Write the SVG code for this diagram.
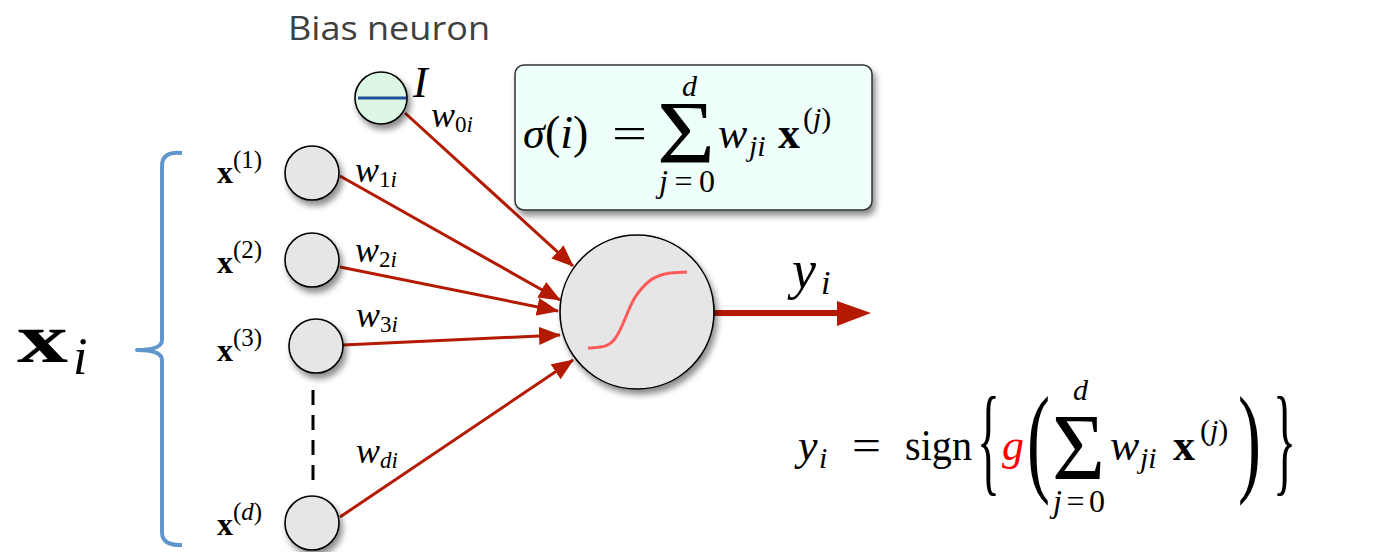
<svg xmlns="http://www.w3.org/2000/svg" width="1382" height="552" viewBox="0 0 1382 552">
<style>
.m{font-family:"Liberation Serif","DejaVu Serif",serif;fill:#000}
.it{font-style:italic}
.bf{font-weight:bold}
.node{fill:#e6e6e6;stroke:#000;stroke-width:1.6}
.conn{stroke:#b31a00;stroke-width:3;fill:none}
.w{font-size:36px;font-style:italic}
.ws{font-size:23px}
.xs{font-size:25px}
</style>
<defs>
<filter id="sh" x="-30%" y="-30%" width="170%" height="170%">
<feDropShadow dx="3" dy="5" stdDeviation="3" flood-color="#000" flood-opacity="0.45"/>
</filter>
<marker id="ah" viewBox="0 0 22 18" markerUnits="userSpaceOnUse" markerWidth="22" markerHeight="18" refX="21" refY="9" orient="auto">
<path d="M0,0 L22,9 L0,18 z" fill="#b31a00"/>
</marker>
</defs>
<rect width="1382" height="552" fill="#fff"/>

<text x="288" y="40" font-family="Open Sans, Liberation Sans, sans-serif" font-size="32" fill="#404040" textLength="202" lengthAdjust="spacingAndGlyphs">Bias neuron</text>

<g id="connectors">
<line class="conn" x1="405" y1="113" x2="573" y2="266" marker-end="url(#ah)"/>
<line class="conn" x1="340" y1="176" x2="560" y2="300" marker-end="url(#ah)"/>
<line class="conn" x1="340" y1="267" x2="558" y2="311" marker-end="url(#ah)"/>
<line class="conn" x1="343" y1="345" x2="560" y2="335" marker-end="url(#ah)"/>
<line class="conn" x1="340" y1="517" x2="573" y2="360" marker-end="url(#ah)"/>
<line x1="714" y1="313" x2="840" y2="313" stroke="#b31a00" stroke-width="6"/>
<polygon points="837,301 871,313 837,326" fill="#b31a00"/>
<line x1="313" y1="390" x2="313" y2="485" stroke="#000" stroke-width="3" stroke-dasharray="15 10"/>
</g>

<g id="bias">
<circle cx="381" cy="98" r="26" fill="#dcf8e4" stroke="#000" stroke-width="1.6" filter="url(#sh)"/>
<line x1="358" y1="98" x2="406" y2="98" stroke="#1f4e9a" stroke-width="3"/>
<text class="m it" x="413" y="97" font-size="44">I</text>
<text class="m" x="431" y="127"><tspan class="w">w</tspan><tspan class="ws" dy="5">0</tspan><tspan class="ws it">i</tspan></text>
</g>

<g id="x1">
<circle class="node" cx="312" cy="173" r="27" filter="url(#sh)"/>
<text class="m" x="217" y="183"><tspan class="bf" font-size="32">x</tspan><tspan class="xs" dy="-15">(1)</tspan></text>
<text class="m" x="355" y="182"><tspan class="w">w</tspan><tspan class="ws" dy="5">1</tspan><tspan class="ws it">i</tspan></text>
</g>
<g id="x2">
<circle class="node" cx="312" cy="260" r="27" filter="url(#sh)"/>
<text class="m" x="217" y="273"><tspan class="bf" font-size="32">x</tspan><tspan class="xs" dy="-15">(2)</tspan></text>
<text class="m" x="355" y="262"><tspan class="w">w</tspan><tspan class="ws" dy="5">2</tspan><tspan class="ws it">i</tspan></text>
</g>
<g id="x3">
<circle class="node" cx="316" cy="346" r="27" filter="url(#sh)"/>
<text class="m" x="217" y="361"><tspan class="bf" font-size="32">x</tspan><tspan class="xs" dy="-15">(3)</tspan></text>
<text class="m" x="356" y="327"><tspan class="w">w</tspan><tspan class="ws" dy="5">3</tspan><tspan class="ws it">i</tspan></text>
</g>
<g id="xd">
<circle class="node" cx="312" cy="523" r="27" filter="url(#sh)"/>
<text class="m" x="217" y="535"><tspan class="bf" font-size="32">x</tspan><tspan class="xs" dy="-15">(</tspan><tspan class="xs it">d</tspan><tspan class="xs">)</tspan></text>
<text class="m" x="356" y="463"><tspan class="w">w</tspan><tspan class="ws it" dy="5">di</tspan></text>
</g>

<g id="neuron">
<circle class="node" cx="637" cy="312" r="77" filter="url(#sh)"/>
<path d="M588,348 C600,347 607,348 614,340 C624,328 628,305 638,293 C648,280 656,275 670,273 L687,272" fill="none" stroke="#ff5a5a" stroke-width="3"/>
</g>

<g id="output-label">
<text class="m it" x="792" y="288" font-size="54">y</text>
<text class="m it" x="821" y="294" font-size="34">i</text>
</g>

<g id="input-brace">
<path d="M182,153 Q162,151 162,166 L162,340 Q162,350 137,350 Q162,350 162,360 L162,532 Q162,546 182,545" fill="none" stroke="#6096cc" stroke-width="4" stroke-linejoin="round"/>
<text class="m bf" x="17" y="362" font-size="70" textLength="51" lengthAdjust="spacingAndGlyphs">x</text>
<text class="m it" x="73" y="374" font-size="52">i</text>
</g>

<g id="sum-box">
<rect x="515" y="65" width="357" height="145" rx="9" fill="#effffb" stroke="#333" stroke-width="1.5" filter="url(#sh)"/>
<text class="m it" x="523" y="148" font-size="44">σ</text>
<text class="m" x="545" y="148" font-size="46">(<tspan class="it">i</tspan>)</text>
<text class="m" x="612" y="148" font-size="44" textLength="35" lengthAdjust="spacingAndGlyphs">=</text>
<text class="m" x="657" y="162" font-size="88" textLength="58" lengthAdjust="spacingAndGlyphs">Σ</text>
<text class="m it" x="682" y="96" font-size="30">d</text>
<text class="m" x="659" y="192" font-size="32" textLength="56" lengthAdjust="spacing"><tspan class="it">j</tspan>=0</text>
<text class="m it" x="718" y="148" font-size="44">w</text>
<text class="m it" x="749" y="156" font-size="30">ji</text>
<text class="m bf" x="778" y="148" font-size="44">x</text>
<text class="m" x="803" y="128" font-size="30">(<tspan class="it">j</tspan>)</text>
</g>

<g id="output-formula">
<text class="m it" x="798" y="460" font-size="44">y</text>
<text class="m it" x="819" y="468" font-size="30">i</text>
<text class="m" x="852" y="460" font-size="44" textLength="29" lengthAdjust="spacingAndGlyphs">=</text>
<text class="m" x="905" y="460" font-size="44" textLength="67" lengthAdjust="spacingAndGlyphs">sign</text>
<text class="m" x="977" y="480" font-size="120" textLength="23" lengthAdjust="spacingAndGlyphs">{</text>
<text class="m it" x="1002" y="460" font-size="44" style="fill:#ff0000">g</text>
<text class="m" x="1027" y="480" font-size="120" textLength="23" lengthAdjust="spacingAndGlyphs">(</text>
<text class="m" x="1052" y="480" font-size="96" textLength="53" lengthAdjust="spacingAndGlyphs">Σ</text>
<text class="m it" x="1073" y="400" font-size="30">d</text>
<text class="m" x="1053" y="512" font-size="32" textLength="52" lengthAdjust="spacing"><tspan class="it">j</tspan>=0</text>
<text class="m it" x="1110" y="460" font-size="44">w</text>
<text class="m it" x="1140" y="468" font-size="30">ji</text>
<text class="m bf" x="1173" y="460" font-size="44">x</text>
<text class="m" x="1200" y="440" font-size="30">(<tspan class="it">j</tspan>)</text>
<text class="m" x="1238" y="480" font-size="120" textLength="23" lengthAdjust="spacingAndGlyphs">)</text>
<text class="m" x="1273" y="480" font-size="120" textLength="23" lengthAdjust="spacingAndGlyphs">}</text>
</g>
</svg>
